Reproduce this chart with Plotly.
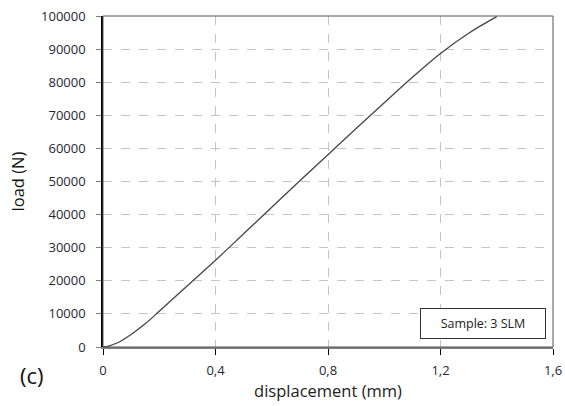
import plotly.graph_objects as go

displacement = [0, 0.02, 0.05, 0.1, 0.15, 0.2, 0.3, 0.4, 0.5, 0.6, 0.7, 0.8, 0.9, 1.0, 1.1, 1.2, 1.3, 1.4]
load = [0, 300, 1200, 3800, 7000, 10800, 18500, 26200, 34200, 42200, 50200, 58100, 66000, 73800, 81500, 88700, 94800, 99800]

x_ticks = [0, 0.4, 0.8, 1.2, 1.6]
x_tick_labels = ["0", "0,4", "0,8", "1,2", "1,6"]
y_ticks = [0, 10000, 20000, 30000, 40000, 50000, 60000, 70000, 80000, 90000, 100000]
y_tick_labels = [str(v) for v in y_ticks]

font = "Open Sans"
tick_color = "#262636"

fig = go.Figure()
fig.add_trace(go.Scatter(x=displacement, y=load, mode="lines",
                         line=dict(color="#454545", width=1.3, shape="spline"),
                         showlegend=False))

fig.update_layout(
    width=565, height=406,
    margin=dict(l=103, r=12, t=16, b=59),
    paper_bgcolor="white", plot_bgcolor="white",
    font=dict(family=font, color=tick_color, size=13),
    xaxis=dict(range=[0, 1.6], tickvals=x_ticks, ticktext=x_tick_labels, automargin=False,
               showgrid=True, gridcolor="#c4c4c4", griddash="dash", gridwidth=1,
               showline=True, linecolor="#808080", linewidth=2,
               ticks="outside", ticklen=6, tickcolor="#000", zeroline=False,
               ticklabelstandoff=4,
               tickfont=dict(size=13, family=font, color=tick_color),
               title=dict(text="displacement (mm)", font=dict(size=16.5, family=font, color="#222"), standoff=6)),
    yaxis=dict(range=[0, 100000], tickvals=y_ticks, ticktext=y_tick_labels, automargin=False,
               showgrid=True, gridcolor="#c4c4c4", griddash="dash", gridwidth=1,
               showline=True, linecolor="#000", linewidth=1.5,
               ticks="outside", ticklen=5, tickcolor="#808080", zeroline=False,
               ticklabelstandoff=8,
               tickfont=dict(size=13, family=font, color=tick_color),
               title=dict(text="load (N)", font=dict(size=16.5, family=font, color="#111"), standoff=12)),
    shapes=[dict(type="rect", xref="paper", yref="paper", x0=0, y0=0, x1=1, y1=1,
                 line=dict(color="#555", width=1), layer="above")],
    annotations=[
        dict(text="Sample: 3 SLM", xref="paper", yref="paper", x=0.704, y=0.025,
             xanchor="left", yanchor="bottom", showarrow=False,
             font=dict(size=12.5, family=font, color="#222"),
             bordercolor="#333", borderwidth=1, borderpad=6, bgcolor="white", width=112),
        dict(text="(c)", xref="paper", yref="paper", x=-0.158, y=-0.085,
             xanchor="center", yanchor="middle", showarrow=False,
             font=dict(size=22, family=font, color="#111")),
    ],
)

fig.write_html("out.html")
